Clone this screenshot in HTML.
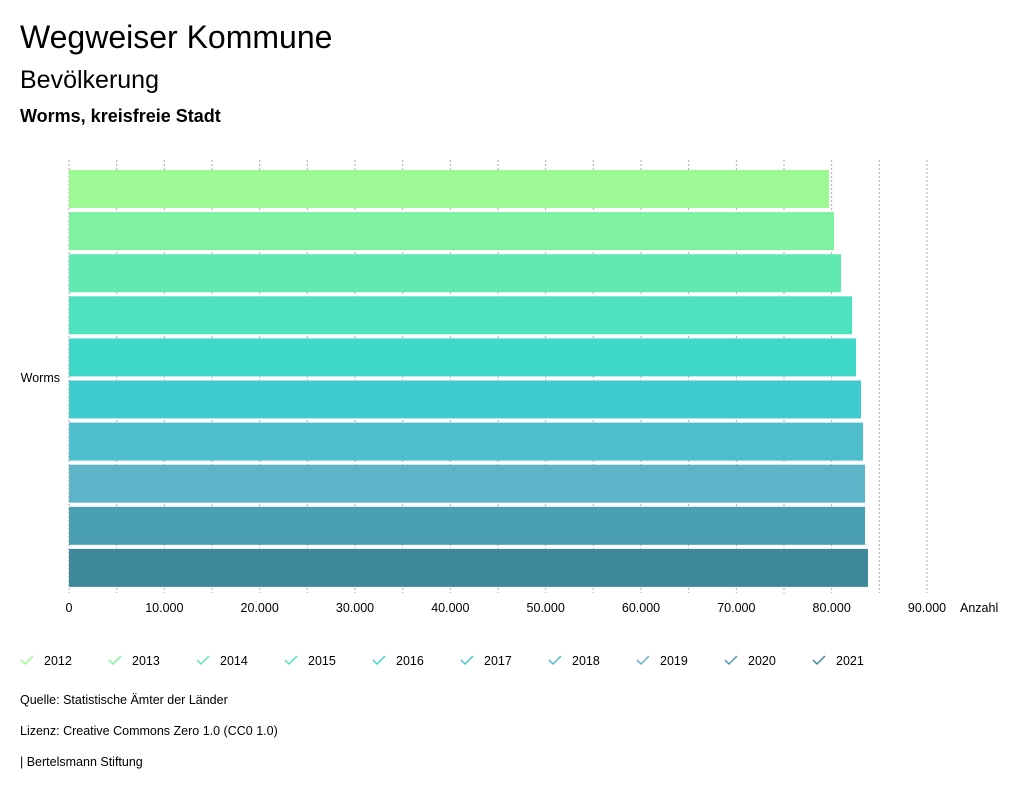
<!DOCTYPE html>
<html><head><meta charset="utf-8"><style>
body{margin:0;width:1024px;height:794px;background:#fff;font-family:"Liberation Sans",sans-serif;color:#111;overflow:hidden}
</style></head><body>
<svg width="1024" height="794" xmlns="http://www.w3.org/2000/svg" font-family="Liberation Sans, sans-serif">
<text x="20" y="48" font-size="32">Wegweiser Kommune</text>
<text x="20" y="88" font-size="25">Bevölkerung</text>
<text x="20" y="122" font-size="18" font-weight="bold">Worms, kreisfreie Stadt</text>
<g id="grid"></g><g id="bars"></g><g id="axis"></g><g id="legend"></g>
<text x="60" y="382" font-size="12.5" text-anchor="end">Worms</text>
<text x="960" y="612" font-size="12.5">Anzahl</text>
<text x="20" y="704" font-size="12.5">Quelle: Statistische Ämter der Länder</text>
<text x="20" y="735" font-size="12.5">Lizenz: Creative Commons Zero 1.0 (CC0 1.0)</text>
<text x="20" y="766" font-size="12.5">| Bertelsmann Stiftung</text>
</svg>
<script>
const years=["2012","2013","2014","2015","2016","2017","2018","2019","2020","2021"];
const values=[79720,80250,80980,82140,82560,83080,83290,83500,83500,83810];
const colors=["#9cf994","#7ef2a0","#62e9b2","#4ee2c0","#3fd7c8","#40ccce","#4ebecc","#5eb4c8","#4a9fb2","#3d889a"];
const tickValues=[0,10000,20000,30000,40000,50000,60000,70000,80000,90000];
const tickLabels=["0","10.000","20.000","30.000","40.000","50.000","60.000","70.000","80.000","90.000"];
const NS="http://www.w3.org/2000/svg";
const x=v=>69+v*(927-69)/90000;
const y=i=>170+i*42.1;
function mk(t,a,p){const e=document.createElementNS(NS,t);for(const k in a)e.setAttribute(k,a[k]);p.appendChild(e);return e;}
const grid=document.getElementById('grid'),bars=document.getElementById('bars'),axis=document.getElementById('axis'),leg=document.getElementById('legend');
for(let v=0;v<=90000;v+=5000){
 const l=mk('line',{x1:x(v),x2:x(v),y1:160,y2:593,stroke:'#aaa','stroke-width':1,'stroke-dasharray':'2,2'},grid);
 
 
}
values.forEach((v,i)=>{
 const r=mk('rect',{x:x(0),y:y(i),width:x(v)-x(0),height:38,fill:colors[i]},bars);
 
 
});
tickValues.forEach((v,i)=>{
 const t=mk('text',{x:x(v),y:612,'font-size':12.5,'text-anchor':'middle'},axis);
 t.textContent=tickLabels[i];
 
 
});
years.forEach((yr,i)=>{
 const gx=21+i*88;
 const g=mk('g',{},leg);
 
 
 mk('path',{d:`M${gx} ${660}l4 4l8 -8`,fill:'none',stroke:colors[i],'stroke-width':1.5},g);
 const t=mk('text',{x:gx+23,y:665,'font-size':12.5},g);
 t.textContent=yr;
});
</script>
</body></html>
